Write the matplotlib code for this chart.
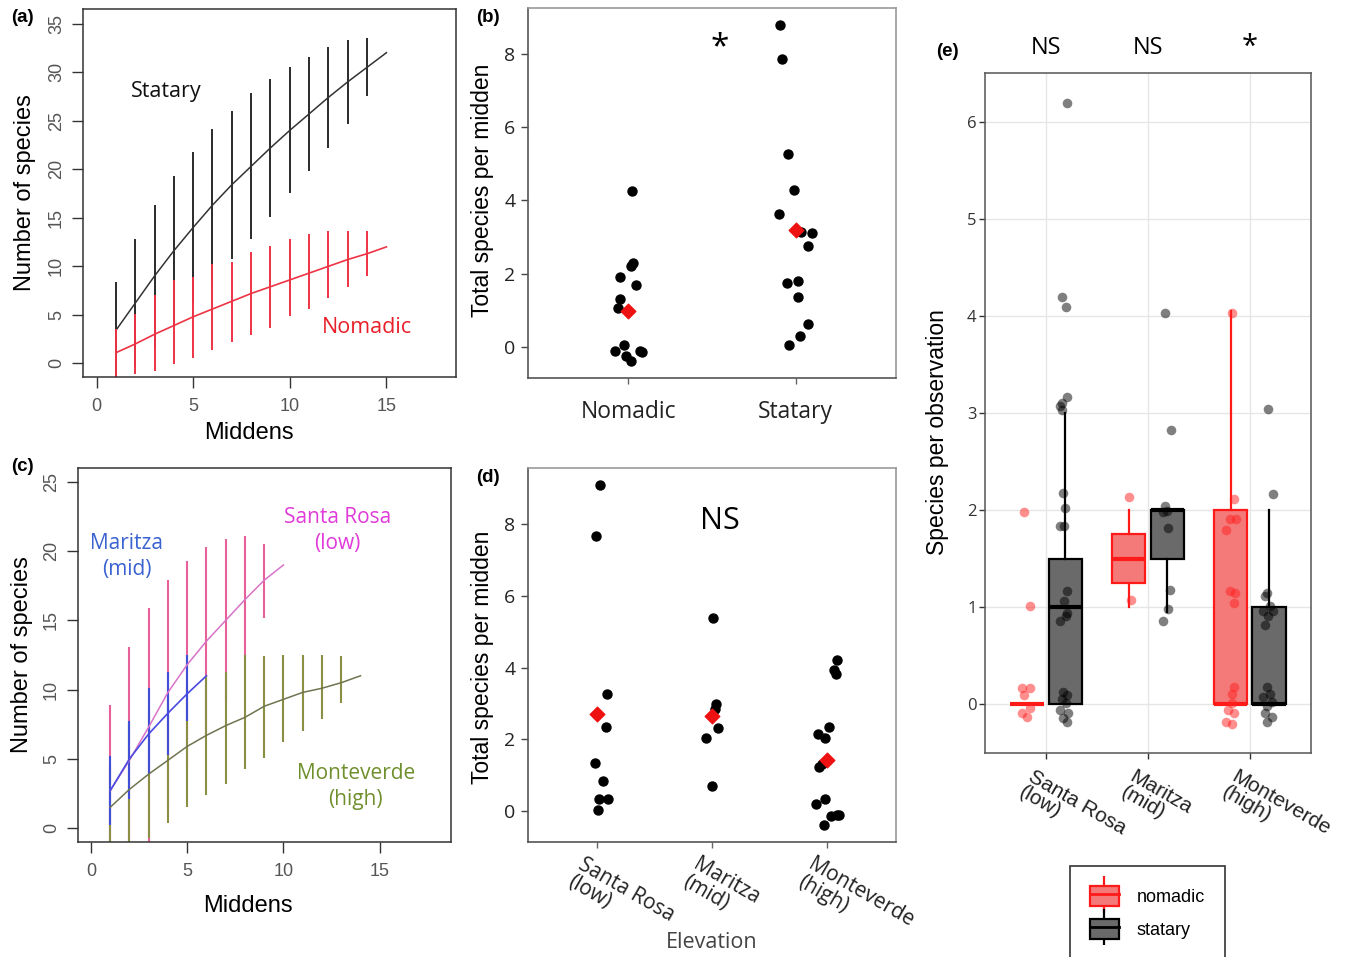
import numpy as np
import matplotlib
matplotlib.use("Agg")
import matplotlib.pyplot as plt
import matplotlib.transforms as mtransforms
from matplotlib.patches import Patch
from matplotlib.lines import Line2D

W, H = 1350, 957

# ---------------- (a) rarefaction: statary vs nomadic ----------------
a_middens = list(range(1, 16))
a_stat_mean = [3.4, 6.2, 9.0, 11.6, 14.0, 16.3, 18.4, 20.3, 22.2, 24.0, 25.7, 27.4, 29.0, 30.5, 32.0]
a_stat_hi = [8.4, 12.8, 16.3, 19.3, 21.8, 24.1, 26.0, 27.8, 29.3, 30.5, 31.6, 32.6, 33.3, 33.5]
a_stat_lo = [-1.6, -0.4, 1.7, 3.9, 6.2, 8.5, 10.8, 12.8, 15.1, 17.5, 19.8, 22.2, 24.7, 27.5]
a_nom_mean = [1.1, 2.0, 3.0, 3.9, 4.8, 5.6, 6.4, 7.2, 7.9, 8.6, 9.3, 10.0, 10.7, 11.3, 12.0]
a_nom_hi = [3.5, 5.1, 7.0, 8.6, 8.9, 10.2, 10.4, 11.5, 12.1, 12.8, 13.3, 13.6, 13.6, 13.6]
a_nom_lo = [-1.4, -1.1, -0.8, -0.1, 0.6, 1.4, 2.2, 2.9, 3.6, 4.9, 5.6, 6.7, 7.9, 9.0]

# ---------------- (c) rarefaction by site ----------------
c_sr_mean = [2.7, 4.9, 7.3, 9.8, 11.8, 13.5, 15.0, 16.5, 17.9, 19.0]
c_sr_hi = [8.9, 13.1, 15.9, 17.9, 19.3, 20.3, 20.9, 21.1, 20.5]
c_sr_lo = [-1.5, -1.5, -1.3, 1.5, 4.3, 6.7, 9.1, 12.2, 15.2]
c_ma_mean = [2.7, 5.0, 6.8, 8.3, 9.7, 11.0]
c_ma_hi = [5.2, 7.7, 10.1, 11.3, 12.5]
c_ma_lo = [0.2, 2.1, 3.9, 5.3, 7.7]
c_mv_mean = [1.5, 2.8, 3.9, 4.9, 5.9, 6.7, 7.4, 8.0, 8.8, 9.3, 9.8, 10.1, 10.5, 11.0]
c_mv_hi = [4.5, 7.6, 8.5, 9.4, 10.3, 11.0, 11.3, 12.5, 12.4, 12.5, 12.5, 12.5, 12.4]
c_mv_lo = [-1.5, -1.5, -0.7, 0.4, 1.5, 2.4, 3.2, 4.3, 5.1, 6.2, 7.0, 7.9, 9.0]

# ---------------- (b) species per midden by strategy ----------------
b_groups = ["Nomadic", "Statary"]
b_nom_y = [4.25, 2.29, 2.2, 1.9, 1.68, 1.32, 1.06, 0.05, -0.1, -0.25, -0.39, -0.1, -0.14]
b_nom_jit = [0.02, 0.026, 0.014, -0.05, 0.044, -0.05, -0.06, -0.024, -0.078, -0.014, 0.014, 0.072, 0.08]
b_stat_y = [8.79, 7.85, 5.27, 4.29, 3.64, 3.14, 3.12, 2.74, 1.75, 1.79, 1.35, 0.63, 0.29, 0.06]
b_stat_jit = [-0.094, -0.08, -0.044, -0.01, -0.098, 0.03, 0.1, 0.076, -0.05, 0.016, 0.016, 0.074, 0.026, -0.04]
b_means = [0.97, 3.2]

# ---------------- (d) species per midden by elevation ----------------
d_sites = ["Santa Rosa\n(low)", "Maritza\n(mid)", "Monteverde\n(high)"]
d_sr_y = [9.09, 7.67, 3.25, 2.33, 1.34, 0.84, 0.32, 0.32, 0.02]
d_sr_jit = [0.029, -0.009, 0.087, 0.078, -0.02, 0.052, 0.017, 0.096, 0.012]
d_ma_y = [5.37, 2.98, 2.83, 2.32, 2.04, 0.70]
d_ma_jit = [0.009, 0.038, 0.029, 0.052, -0.055, 0.003]
d_mv_y = [4.2, 3.94, 3.83, 2.33, 2.14, 2.04, 1.23, 1.32, 0.18, 0.33, -0.14, -0.12, -0.12, -0.4]
d_mv_jit = [0.087, 0.058, 0.078, 0.02, -0.078, -0.02, -0.072, -0.043, -0.096, -0.014, 0.035, 0.087, 0.1, -0.029]
d_means = [2.70, 2.65, 1.43]

# ---------------- (e) species per observation ----------------
e_sites = ["Santa Rosa\n(low)", "Maritza\n(mid)", "Monteverde\n(high)"]
e_signif = ["NS", "NS", "*"]
e_nom_q1 = [0, 1.25, 0]
e_nom_med = [0, 1.5, 0]
e_nom_q3 = [0, 1.75, 2.0]
e_nom_lo = [0, 1.0, 0]
e_nom_hi = [0, 2.0, 4.05]
e_stat_q1 = [0, 1.5, 0]
e_stat_med = [1.0, 2.0, 0]
e_stat_q3 = [1.5, 2.0, 1.0]
e_stat_lo = [0, 0.95, 0]
e_stat_hi = [3.0, 2.0, 2.0]

e_nom_sr_y = [1.98, 1.01, 0.17, 0.17, 0.10, -0.04, -0.09, -0.13]
e_nom_sr_jit = [-0.03, 0.03, -0.045, 0.03, -0.03, 0.03, -0.045, 0.0]
e_stat_sr_y = [6.19, 4.19, 4.09, 3.16, 3.10, 3.07, 3.03, 2.18, 2.02, 1.84, 1.84, 1.17,
               1.06, 0.94, 0.91, 0.86, 0.13, 0.10, 0.06, 0.01, -0.06, -0.09, -0.14, -0.18]
e_stat_sr_jit = [0.015, -0.035, 0.005, 0.015, -0.035, -0.05, -0.035, -0.025, 0, -0.05, -0.015, 0.015,
                 -0.015, 0.015, 0.005, -0.05, -0.025, 0.015, -0.035, 0.005, -0.05, 0.025, -0.025, 0.015]
e_nom_ma_y = [2.14, 1.08]
e_nom_ma_jit = [0.0, 0.02]
e_stat_ma_y = [4.03, 2.83, 2.04, 1.99, 1.98, 1.82, 1.18, 0.98, 0.86]
e_stat_ma_jit = [-0.025, 0.035, -0.025, 0, -0.04, 0.01, 0.025, 0.01, -0.045]
e_nom_mv_y = [4.03, 2.11, 1.91, 1.91, 1.80, 1.17, 1.15, 1.04, 0.18, 0.11, 0.01, -0.06, -0.09, -0.18, -0.20]
e_nom_mv_jit = [0.01, 0.03, -0.005, 0.05, -0.04, -0.005, 0.045, 0.03, 0.03, 0.01, 0.01, -0.02, 0.03, -0.04, 0.01]
e_stat_mv_y = [3.04, 2.17, 1.15, 1.12, 1.01, 0.96, 0.96, 0.91, 0.82, 0.18, 0.11, 0.08, 0.03, -0.02, -0.09, -0.13, -0.18]
e_stat_mv_jit = [-0.015, 0.04, -0.025, -0.04, 0.005, -0.06, 0.04, -0.01, -0.04, -0.025, 0.005, -0.06, 0.025,
                 -0.025, -0.04, 0.025, -0.025]

SANS = ["Liberation Sans", "DejaVu Sans"]
SEG = ["Open Sans", "DejaVu Sans"]
plt.rcParams["font.family"] = SANS

fig = plt.figure(figsize=(W / 100, H / 100), dpi=100)


def axes_px(left, top, right, bottom):
    return fig.add_axes([left / W, 1 - bottom / H, (right - left) / W, (bottom - top) / H])


def place_ylabel(ax, text, size, xfrac, yfrac):
    ax.set_ylabel(text, fontsize=size)
    ax.yaxis.set_label_coords(xfrac, yfrac)
    ax.yaxis.label.set_va("center")


def place_xlabel(ax, text, size, xfrac, yfrac, **kw):
    ax.set_xlabel(text, fontsize=size, **kw)
    ax.xaxis.set_label_coords(xfrac, yfrac)
    ax.xaxis.label.set_va("center")


def r_style(ax, xticks, yticks):
    for s in ax.spines.values():
        s.set_color("#333333")
        s.set_linewidth(1.1)
    ax.set_xticks(xticks)
    ax.set_yticks(yticks)
    ax.tick_params(axis="both", direction="out", length=8, width=1, color="#333333",
                   labelsize=13, labelcolor="#555555")
    ax.tick_params(axis="x", pad=7)
    ax.tick_params(axis="y", pad=5)
    for lab in ax.get_yticklabels():
        lab.set_rotation(90)
        lab.set_va("center")


# ---------- panel (a) ----------
ax = axes_px(83, 9, 456, 377)
ax.vlines(a_middens[:-1], a_stat_lo, a_stat_hi, color="#2a2a2a", lw=1.4)
ax.plot(a_middens, a_stat_mean, color="#333333", lw=1.1)
ax.vlines(a_middens[:-1], a_nom_lo, a_nom_hi, color="#ee3344", lw=1.4)
ax.plot(a_middens, a_nom_mean, color="#ee3344", lw=1.2)
ax.set_xlim(-0.7, 18.6)
ax.set_ylim(-1.4, 36.5)
r_style(ax, [0, 5, 10, 15], list(range(0, 36, 5)))
ax.text(3.6, 28.0, "Statary", fontsize=15.5, color="#111111", ha="center", va="center", family=SEG)
ax.text(14.0, 3.7, "Nomadic", fontsize=15.5, color="#e8202a", ha="center", va="center", family=SEG)
place_ylabel(ax, "Number of species", 17, -0.155, 0.5)
place_xlabel(ax, "Middens", 17, 0.445, -0.152)

# ---------- panel (c) ----------
ax = axes_px(78, 468, 451, 842)
sr_x = list(range(1, len(c_sr_mean) + 1))
ma_x = list(range(1, len(c_ma_mean) + 1))
mv_x = list(range(1, len(c_mv_mean) + 1))
ax.vlines(sr_x[:-1], c_sr_lo, c_sr_hi, color="#e8609a", lw=1.5)
ax.vlines(mv_x[:-1], c_mv_lo, c_mv_hi, color="#8a8f45", lw=1.5)
ax.vlines(ma_x[:-1], c_ma_lo, c_ma_hi, color="#3f4fd8", lw=1.5)
ax.plot(sr_x, c_sr_mean, color="#d873c8", lw=1.1)
ax.plot(mv_x, c_mv_mean, color="#6f7550", lw=1.1)
ax.plot(ma_x, c_ma_mean, color="#4a4ae0", lw=1.2)
ax.set_xlim(-0.67, 18.7)
ax.set_ylim(-1.0, 26.0)
r_style(ax, [0, 5, 10, 15], list(range(0, 26, 5)))
ax.text(1.87, 19.6, "Maritza\n(mid)", fontsize=15, color="#3a62d0", ha="center", va="center",
        linespacing=1.3, family=SEG)
ax.text(12.8, 21.5, "Santa Rosa\n(low)", fontsize=15, color="#e03ad8", ha="center", va="center",
        linespacing=1.3, family=SEG)
ax.text(13.75, 3.0, "Monteverde\n(high)", fontsize=15, color="#6f8f2c", ha="center", va="center",
        linespacing=1.3, family=SEG)
place_ylabel(ax, "Number of species", 17, -0.15, 0.5)
place_xlabel(ax, "Middens", 17, 0.456, -0.171)


def dot_style(ax, yticks):
    for name, s in ax.spines.items():
        s.set_color("#555555" if name in ("left", "bottom") else "#999999")
        s.set_linewidth(1.2)
    ax.set_yticks(yticks)
    ax.tick_params(axis="y", direction="out", length=5, width=1, color="#444444",
                   labelsize=14, labelcolor="#222222", pad=4)
    ax.tick_params(axis="x", direction="out", length=4, width=1, color="#666666",
                   labelcolor="#222222")
    for lab in ax.get_yticklabels():
        lab.set_family(SEG)


# ---------- panel (b) ----------
ax = axes_px(528, 8, 896, 378)
ax.scatter(1 + np.array(b_nom_jit), b_nom_y, s=42, color="black", zorder=3)
ax.scatter(2 + np.array(b_stat_jit), b_stat_y, s=42, color="black", zorder=3)
ax.scatter([1, 2], b_means, s=55, marker="D", color="#ee1111", zorder=4)
ax.set_xlim(0.4, 2.6)
ax.set_ylim(-0.85, 9.25)
ax.set_xticks([1, 2])
ax.set_xticklabels(b_groups, family=SEG, fontsize=16.5)
dot_style(ax, [0, 2, 4, 6, 8])
ax.tick_params(axis="x", pad=12)
ax.text(1.545, 8.15, "*", fontsize=24, ha="center", va="center", family=SEG)
place_ylabel(ax, "Total species per midden", 16.5, -0.125, 0.508)

# ---------- panel (d) ----------
ax = axes_px(528, 468, 896, 842)
for i, (yy, jj) in enumerate([(d_sr_y, d_sr_jit), (d_ma_y, d_ma_jit), (d_mv_y, d_mv_jit)]):
    ax.scatter(i + 1 + np.array(jj), yy, s=42, color="black", zorder=3)
ax.scatter([1, 2, 3], d_means, s=55, marker="D", color="#ee1111", zorder=4)
ax.set_xlim(0.4, 3.6)
ax.set_ylim(-0.87, 9.57)
ax.set_xticks([1, 2, 3])
ax.set_xticklabels(d_sites, family=SEG, fontsize=15, rotation=-30, ha="left",
                   rotation_mode="anchor", linespacing=0.95)
dot_style(ax, [0, 2, 4, 6, 8])
ax.tick_params(axis="x", pad=5)
shift = mtransforms.ScaledTranslation(-12 / 100, 0, fig.dpi_scale_trans)
for lab in ax.get_xticklabels():
    lab.set_transform(lab.get_transform() + shift)
ax.text(2.07, 8.1, "NS", fontsize=22, ha="center", va="center", family=SEG)
place_ylabel(ax, "Total species per midden", 16.5, -0.125, 0.495)
place_xlabel(ax, "Elevation", 15.5, 0.5, -0.27, color="#444444", family=SEG)

# ---------- panel (e) ----------
ax = axes_px(985, 73, 1311, 753)
ax.grid(True, color="#e6e6e6", lw=1.0, zorder=0)
ax.set_axisbelow(True)
dodge = 0.19
nom_stats = [dict(q1=a, med=b, q3=c, whislo=d, whishi=e, fliers=[])
             for a, b, c, d, e in zip(e_nom_q1, e_nom_med, e_nom_q3, e_nom_lo, e_nom_hi)]
stat_stats = [dict(q1=a, med=b, q3=c, whislo=d, whishi=e, fliers=[])
              for a, b, c, d, e in zip(e_stat_q1, e_stat_med, e_stat_q3, e_stat_lo, e_stat_hi)]
pos = np.arange(1, len(e_sites) + 1)
ax.bxp(nom_stats, positions=pos - dodge, widths=0.33, patch_artist=True, showcaps=False,
       boxprops=dict(facecolor="#f47a7a", edgecolor="#ff1a1a", lw=1.6),
       whiskerprops=dict(color="#ff1a1a", lw=1.6),
       medianprops=dict(color="#ff1a1a", lw=3), zorder=2)
ax.bxp(stat_stats, positions=pos + dodge, widths=0.33, patch_artist=True, showcaps=False,
       boxprops=dict(facecolor="#6a6a6a", edgecolor="black", lw=1.6),
       whiskerprops=dict(color="black", lw=1.6),
       medianprops=dict(color="black", lw=3), zorder=2)
nom_pts = [(e_nom_sr_y, e_nom_sr_jit), (e_nom_ma_y, e_nom_ma_jit), (e_nom_mv_y, e_nom_mv_jit)]
stat_pts = [(e_stat_sr_y, e_stat_sr_jit), (e_stat_ma_y, e_stat_ma_jit), (e_stat_mv_y, e_stat_mv_jit)]
for i, ((ny, nj), (sy, sj)) in enumerate(zip(nom_pts, stat_pts)):
    ax.scatter(i + 1 - dodge + np.array(nj), ny, s=48, color="#ff2020", alpha=0.5, lw=0, zorder=3)
    ax.scatter(i + 1 + dodge + np.array(sj), sy, s=48, color="black", alpha=0.5, lw=0, zorder=3)
ax.set_xlim(0.4, 3.6)
ax.set_ylim(-0.5, 6.5)
ax.set_yticks(range(0, 7))
ax.set_xticks(pos)
ax.set_xticklabels(e_sites, fontsize=15, rotation=-30, ha="left", rotation_mode="anchor",
                   linespacing=0.95, color="#222222")
for s in ax.spines.values():
    s.set_color("#555555")
    s.set_linewidth(1.1)
ax.tick_params(axis="both", direction="out", length=4, width=1, color="#333333")
ax.tick_params(axis="y", labelsize=12, labelcolor="#333333", pad=2)
ax.tick_params(axis="x", pad=6)
shift_e = mtransforms.ScaledTranslation(-12 / 100, 0, fig.dpi_scale_trans)
for lab in ax.get_xticklabels():
    lab.set_transform(lab.get_transform() + shift_e)
for lab in ax.get_yticklabels():
    lab.set_family(SEG)
trans = mtransforms.blended_transform_factory(ax.transData, ax.transAxes)
for x, t in zip(pos, e_signif):
    ax.text(x, 1.037, t, transform=trans, fontsize=17 if t != "*" else 21, ha="center",
            va="center", family=SEG)
place_ylabel(ax, "Species per observation", 16.5, -0.147, 0.472)

handles = [(Line2D([], [], color="#ff1a1a", marker="|", markersize=26, mew=1.6, linestyle="none"),
            Patch(facecolor="#f47a7a", edgecolor="#ff1a1a", lw=1.6),
            Line2D([], [], color="#ff1a1a", lw=2)),
           (Line2D([], [], color="black", marker="|", markersize=26, mew=1.6, linestyle="none"),
            Patch(facecolor="#6a6a6a", edgecolor="black", lw=1.6),
            Line2D([], [], color="black", lw=2))]
leg = fig.legend(handles, ["nomadic", "statary"], loc="upper left",
                 bbox_to_anchor=(1070 / W, 1 - 866 / H), fontsize=13, frameon=True,
                 fancybox=False, edgecolor="black", handlelength=1.6, handleheight=1.3,
                 borderpad=1.1, labelspacing=0.75, handletextpad=1.0, borderaxespad=0)
leg.get_frame().set_linewidth(1.2)

# panel labels
for txt, x, y in [("(a)", 22, 17), ("(b)", 488, 18), ("(c)", 22, 467), ("(d)", 488, 478), ("(e)", 947, 52)]:
    fig.text(x / W, 1 - y / H, txt, fontsize=13.5, fontweight="bold", ha="center", va="center")

fig.savefig("out.png", dpi=100)
